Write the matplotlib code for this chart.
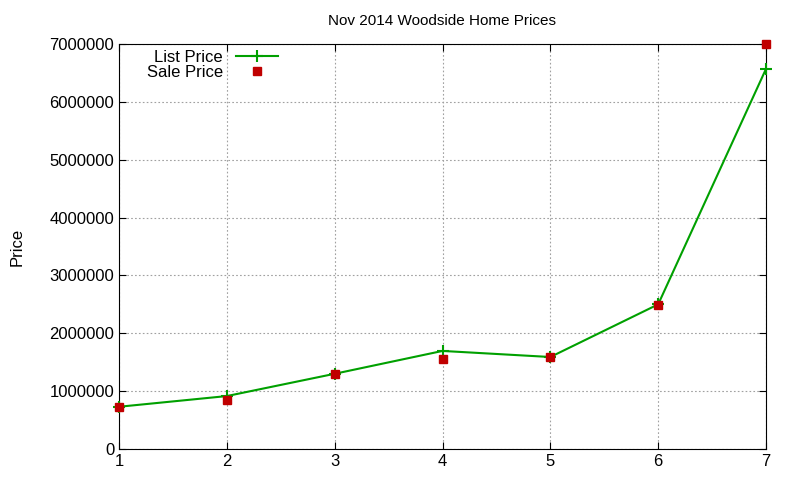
import matplotlib
matplotlib.use("Agg")
import matplotlib.pyplot as plt

x = [1, 2, 3, 4, 5, 6, 7]
list_price = [730000, 915000, 1300000, 1695000, 1590000, 2500000, 6570000]
sale_price = [730000, 850000, 1300000, 1550000, 1590000, 2490000, 7000000]
yticks = [0, 1000000, 2000000, 3000000, 4000000, 5000000, 6000000, 7000000]

plt.rcParams['font.family'] = ['Liberation Sans', 'DejaVu Sans']
fig = plt.figure(figsize=(8, 4.8), dpi=100)
ax = fig.add_axes([119/800, 31/480, (766-119)/800, (449-44)/480])
ax.plot(x, list_price, color='#00a000', lw=1.5, marker='+', ms=9, mew=1.5, label='List Price',
        clip_on=False, zorder=3)
ax.plot(x, sale_price, ls='none', marker='s', color='#c00000', ms=6, label='Sale Price',
        clip_on=False, zorder=4)
ax.set_xlim(1, 7)
ax.set_ylim(0, 7000000)
ax.set_xticks(x)
ax.set_yticks(yticks)
ax.set_yticklabels([str(v) for v in yticks])
ax.grid(True, color='#a0a0a0', ls=(0, (1.5, 2)), lw=0.8)
ax.tick_params(direction='in', labelsize=12, length=5, top=True, right=True)
ax.set_ylabel('Price', fontsize=12, labelpad=18)
ax.set_title('Nov 2014 Woodside Home Prices', fontsize=11, pad=14)
leg = ax.legend(loc='upper left', bbox_to_anchor=(0.025, 1.015), frameon=False, fontsize=12,
                markerfirst=False, handlelength=2.5, borderaxespad=0.3, labelspacing=0.0)
for t in leg.get_texts():
    t.set_ha('right')
fig.savefig('out.png', dpi=100)
